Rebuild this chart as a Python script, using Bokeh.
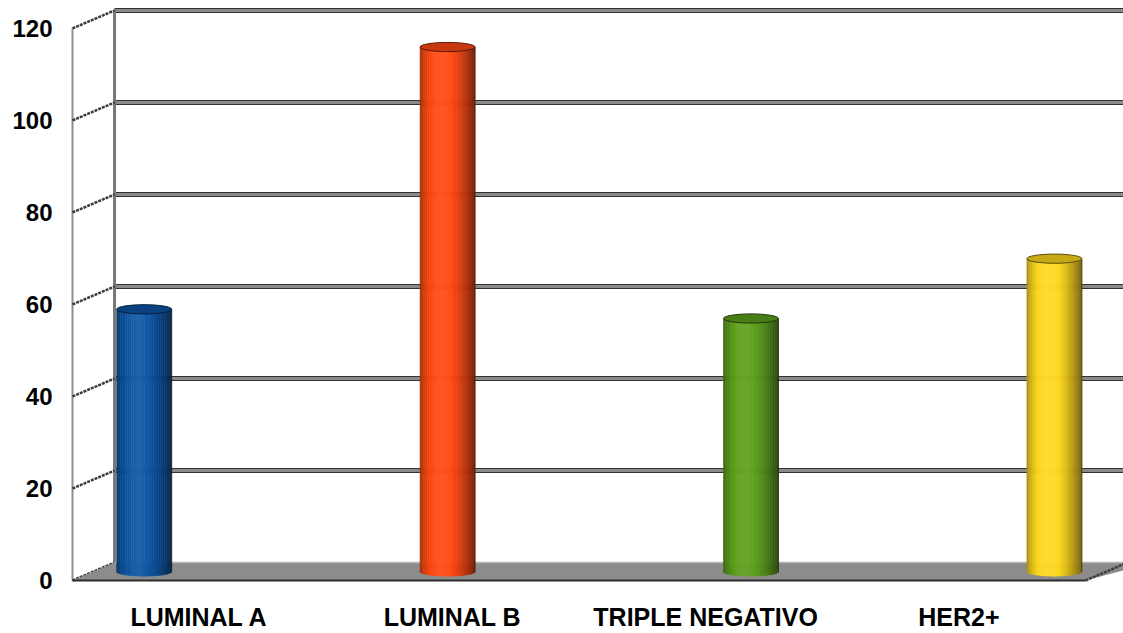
import numpy as np
from bokeh.plotting import figure
from bokeh.models import FixedTicker, Range1d
from bokeh.embed import file_html
from bokeh.resources import INLINE

# ---- data -------------------------------------------------------------
categories = ["LUMINAL A", "LUMINAL B", "TRIPLE NEGATIVO", "HER2+"]
counts = [57, 114, 55, 68]
bar_colors = ["#0d55a3", "#ff4812", "#5c9f1c", "#ffd81e"]
y_ticks = [0, 20, 40, 60, 80, 100, 120]

# ---- pseudo-3D geometry (data units) ----------------------------------
DX, DY = 0.166, 3.9        # offset of the back wall along the depth axis
FLOOR_END = 4.0            # front-right corner of the floor
BAR_DEPTH = 0.5            # cylinders stand half-way into the floor
BAR_W = 0.217
BAR_START, BAR_STEP = 0.2, 1.198
ELL_H = 2.0                # height of the cylinder end ellipses
N_STRIPS = 30

X0, X1 = -6 / 253.25, 4.150
Y0, Y1 = -2 / 4.6167, 126.065

FONT = "Liberation Sans"


def shade(hex_color, f):
    r, g, b = (int(hex_color[i:i + 2], 16) for i in (1, 3, 5))
    if f <= 1:
        r, g, b = r * f, g * f, b * f
    else:
        k = min(f - 1, 1)
        r, g, b = r + (255 - r) * k, g + (255 - g) * k, b + (255 - b) * k
    return "#%02x%02x%02x" % (int(round(r)), int(round(g)), int(round(b)))


def profile(t):
    return 0.62 + 0.45 * np.sin(np.pi * t ** 0.75) - 0.15 * t ** 4


p = figure(width=1123, height=633, x_range=Range1d(X0, X1), y_range=Range1d(Y0, Y1),
           output_backend="svg", toolbar_location=None,
           min_border_left=66, min_border_right=0, min_border_top=0, min_border_bottom=49)
p.outline_line_color = None
p.xgrid.visible = False
p.ygrid.visible = False
p.background_fill_color = "white"
p.border_fill_color = "white"

# axes: value labels on the front plane, category labels under the floor
p.yaxis.ticker = FixedTicker(ticks=y_ticks)
p.yaxis.axis_line_color = None
p.yaxis.major_tick_line_color = None
p.yaxis.major_tick_out = 0
p.yaxis.minor_tick_line_color = None
p.yaxis.minor_tick_out = 0
p.yaxis.major_label_standoff = 14
p.yaxis.major_label_text_font = FONT
p.yaxis.major_label_text_font_style = "bold"
p.yaxis.major_label_text_font_size = "24px"
p.yaxis.major_label_text_color = "black"

tick_pos = [i + 0.5 for i in range(len(categories))]
p.xaxis.ticker = FixedTicker(ticks=tick_pos)
p.xaxis.major_label_overrides = {t: c for t, c in zip(tick_pos, categories)}
p.xaxis.axis_line_color = None
p.xaxis.major_tick_line_color = None
p.xaxis.major_tick_out = 0
p.xaxis.minor_tick_line_color = None
p.xaxis.minor_tick_out = 0
p.xaxis.major_label_standoff = 20
p.xaxis.major_label_text_font = FONT
p.xaxis.major_label_text_font_style = "bold"
p.xaxis.major_label_text_font_size = "25px"
p.xaxis.major_label_text_color = "black"

# back wall grid lines
grid_vals = [v for v in y_ticks if v > 0]
xs = [[DX, X1 + 0.1] for _ in grid_vals]
ys = [[v + DY, v + DY] for v in grid_vals]
p.multi_line(xs, ys, line_color="#333333", line_width=5)
p.multi_line(xs, ys, line_color="#8a8a8a", line_width=3)

# back wall left edge and front edge of the side wall
p.line([DX, DX], [DY, y_ticks[-1] + DY], line_color="#777777", line_width=3)
p.line([0, 0], [0, y_ticks[-1]], line_color="#8f8f8f", line_width=2)

# side wall grid lines (front tick -> back wall)
p.multi_line([[0, DX] for _ in y_ticks], [[v, v + DY] for v in y_ticks],
             line_color="#3c3c3c", line_width=2.5, line_dash="3 1")

# floor
p.patch([0, DX, FLOOR_END + DX + 0.1, FLOOR_END],
        [0, DY, DY, 0], fill_color="#8c8c8c", line_color=None)
p.line([DX, X1 + 0.1], [DY, DY], line_color="#b5b5b5", line_width=1.5)
p.line([0, FLOOR_END], [0, 0], line_color="#2d2d2d", line_width=2)
p.line([FLOOR_END, FLOOR_END + DX], [0, DY], line_color="#3c3c3c",
       line_width=2.5, line_dash="3 1")

# cylinders built from shaded vertical strips
edges = np.linspace(0, 1, N_STRIPS + 1)
mids = (edges[:-1] + edges[1:]) / 2
for i, (v, col) in enumerate(zip(counts, bar_colors)):
    xc = BAR_START + BAR_STEP * i + BAR_DEPTH * DX
    yb = BAR_DEPTH * DY
    yt = yb + v
    left = xc - BAR_W / 2 + edges[:-1] * BAR_W
    right = xc - BAR_W / 2 + edges[1:] * BAR_W
    u = (mids - 0.5) * 2
    bottom = yb - (ELL_H / 2) * np.sqrt(np.clip(1 - u ** 2, 0, 1))
    colors = [shade(col, f) for f in profile(mids)]
    p.quad(left=left, right=right, bottom=bottom, top=[yt] * N_STRIPS,
           fill_color=colors, line_color=colors, line_width=0.6)
    p.line([xc + BAR_W / 2, xc + BAR_W / 2], [yb, yt], line_color="#1e1e1e",
           line_width=1, line_alpha=0.6)
    p.ellipse(x=[xc], y=[yt], width=BAR_W, height=ELL_H,
              fill_color=shade(col, 0.78), line_color=shade(col, 0.35), line_width=1)

open("out.html", "w").write(file_html(p, INLINE))
